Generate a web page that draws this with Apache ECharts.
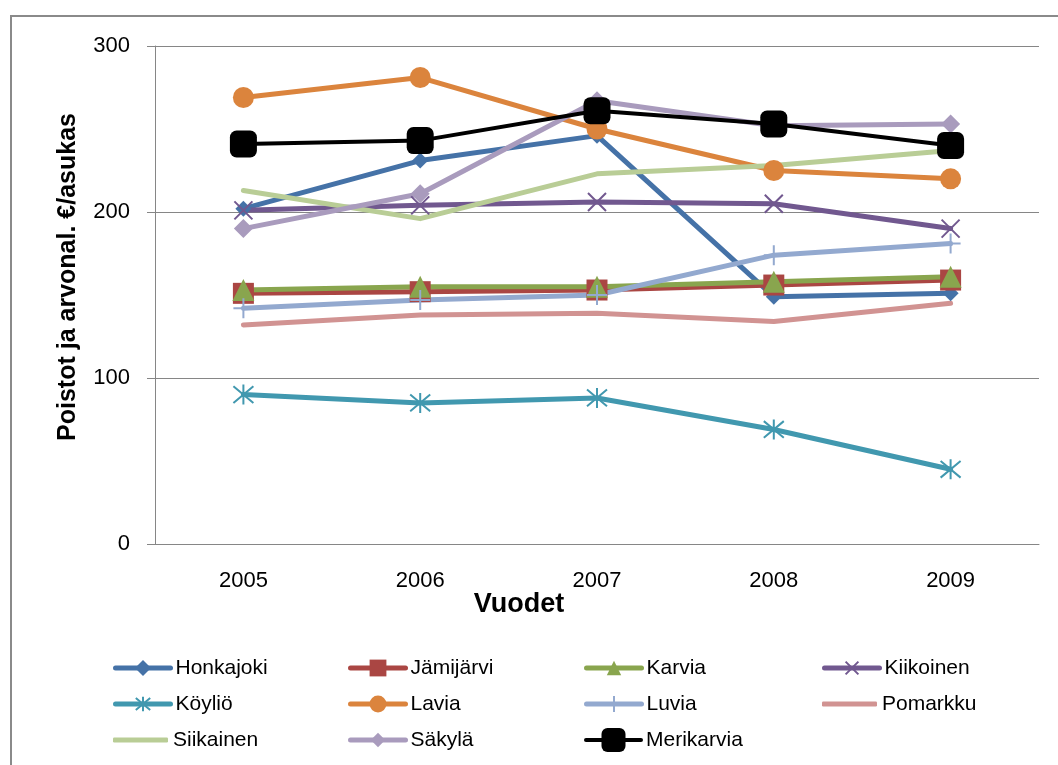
<!DOCTYPE html>
<html>
<head>
<meta charset="utf-8">
<script src="https://cdn.jsdelivr.net/npm/echarts@6/dist/echarts.min.js"></script>
<style>
  html, body { margin: 0; padding: 0; background: #fff; }
  #chart { width: 1058px; height: 765px; }
</style>
</head>
<body>
<div id="chart"></div>
<script>
// Poistot ja arvonalentumiset euroa asukasta kohden, 2005–2009
const years = ['2005', '2006', '2007', '2008', '2009'];
const yTicks = [0, 100, 200, 300];

const honkajoki  = [202, 231, 246, 149, 151];
const jamijarvi  = [151, 152, 153, 156, 159];
const karvia     = [153, 155, 155, 158, 161];
const kiikoinen  = [201, 204, 206, 205, 190];
const koylio     = [90, 85, 88, 69, 45];
const lavia      = [269, 281, 250, 225, 220];
const luvia      = [142, 147, 150, 174, 181];
const pomarkku   = [132, 138, 139, 134, 145];
const siikainen  = [213, 196, 223, 228, 237];
const sakyla     = [190, 211, 267, 252, 253];
const merikarvia = [241, 243, 261, 253, 240];

const FONT = '"Liberation Sans", Arial, sans-serif';
const LEGEND_FONT_SIZE = 21;

const X_PATH = 'path://M0,0L10,10M10,0L0,10';
const STAR_PATH = 'path://M0,0L10,10M10,0L0,10M5,-1L5,11';
const PLUS_PATH = 'path://M5,0L5,10M0,5L10,5';

// name, values, colour, symbol, size, stroked symbol?, line width, legend icon height
const seriesDefs = [
  ['Honkajoki',  honkajoki,  '#4572A7', 'diamond',   16, false, 5, 20],
  ['Jämijärvi',  jamijarvi,  '#AA4643', 'rect',      21, false, 5, 21],
  ['Karvia',     karvia,     '#89A54E', 'triangle',  22, false, 5, 18],
  ['Kiikoinen',  kiikoinen,  '#71588F', X_PATH,      18, true,  5, 16],
  ['Köyliö',     koylio,     '#4198AF', STAR_PATH,   20, true,  5, 18],
  ['Lavia',      lavia,      '#DB843D', 'circle',    21, false, 5, 21],
  ['Luvia',      luvia,      '#93A9CF', PLUS_PATH,   20, true,  5, 20],
  ['Pomarkku',   pomarkku,   '#D19392', 'none',       0, false, 5, 5],
  ['Siikainen',  siikainen,  '#B9CD96', 'none',       0, false, 5, 5],
  ['Säkylä',     sakyla,     '#A99BBD', 'diamond',   19, false, 5, 18],
  ['Merikarvia', merikarvia, '#000000', 'roundRect', 27, false, 4, 30]
];

const series = seriesDefs.map(([name, data, color, symbol, size, stroked, lw]) => ({
  name,
  type: 'line',
  data,
  symbol,
  symbolSize: size,
  showSymbol: symbol !== 'none',
  showAllSymbol: true,
  animation: false,
  z: 2,
  lineStyle: { color, width: lw, cap: 'round', join: 'round' },
  itemStyle: stroked
    ? { color, borderColor: color, borderWidth: 2 }
    : { color, borderWidth: 0 },
  emphasis: { disabled: true }
}));

// Legend grid: three rows, four columns; each entry is centred on its row line
const colX = [113, 348, 584, 822];
const rowY = [668, 704, 740];
const legends = seriesDefs.map(([name, , , symbol, , , lw, iconH], i) => {
  const lineOnly = symbol === 'none';
  // tall icons push the text box upwards, so nudge them back down
  const top = iconH > LEGEND_FONT_SIZE
    ? rowY[Math.floor(i / 4)] - iconH / 2 + 3
    : rowY[Math.floor(i / 4)] - LEGEND_FONT_SIZE / 2;
  return {
    data: [lineOnly ? { name, icon: 'roundRect' } : name],
    left: colX[i % 4],
    top,
    padding: 0,
    itemWidth: 55,
    itemHeight: iconH,
    selectedMode: false,
    lineStyle: { width: lw },
    textStyle: { fontFamily: FONT, fontSize: LEGEND_FONT_SIZE, color: '#000' }
  };
});

const chart = echarts.init(document.getElementById('chart'), null, { renderer: 'canvas' });
chart.setOption({
  backgroundColor: '#fff',
  animation: false,
  grid: { left: 155, right: 19, top: 46, bottom: 221, containLabel: false },
  xAxis: {
    type: 'category',
    data: years,
    boundaryGap: true,
    axisLine: { lineStyle: { color: '#868686', width: 1 } },
    axisTick: { show: false },
    axisLabel: { fontFamily: FONT, fontSize: 22, color: '#000', margin: 26 }
  },
  yAxis: {
    type: 'value',
    min: yTicks[0],
    max: yTicks[yTicks.length - 1],
    interval: 100,
    axisLine: { show: true, lineStyle: { color: '#868686', width: 1 } },
    axisTick: { show: true, length: 8, lineStyle: { color: '#868686' } },
    axisLabel: { fontFamily: FONT, fontSize: 22, color: '#000', margin: 25 },
    splitLine: { lineStyle: { color: '#868686', width: 1 } }
  },
  legend: legends,
  series,
  graphic: [
    {
      type: 'rect',
      shape: { x: 11, y: 16, width: 1200, height: 900 },
      style: { fill: 'none', stroke: '#8a8a8a', lineWidth: 2 },
      silent: true
    },
    {
      type: 'text',
      x: 68, y: 277,
      rotation: Math.PI / 2,
      style: {
        text: 'Poistot ja arvonal. €/asukas',
        font: 'bold 25px ' + FONT,
        fill: '#000',
        align: 'center',
        verticalAlign: 'middle'
      }
    },
    {
      type: 'text',
      x: 519, y: 605,
      style: {
        text: 'Vuodet',
        font: 'bold 27px ' + FONT,
        fill: '#000',
        align: 'center',
        verticalAlign: 'middle'
      }
    }
  ]
});
</script>
</body>
</html>
